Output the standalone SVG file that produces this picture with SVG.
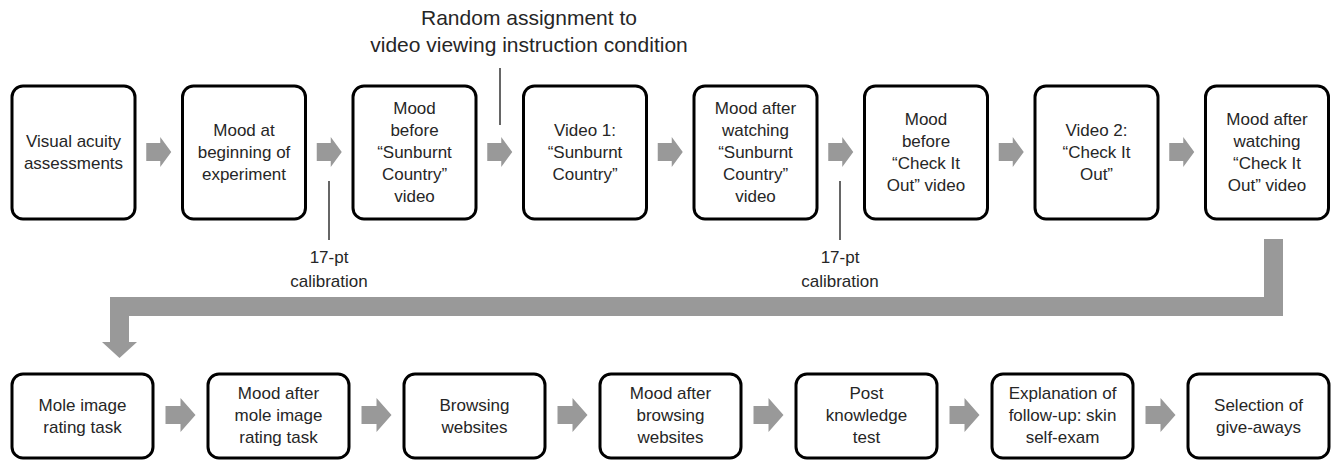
<svg xmlns="http://www.w3.org/2000/svg" width="1337" height="460" viewBox="0 0 1337 460">
<style>
.box{fill:#fff;stroke:#000;stroke-width:3}
.t{font-family:"Liberation Sans",Arial,sans-serif;font-size:17px;fill:#262626;text-anchor:middle}
.big{font-size:21px}
.arr{fill:#999}
.ln{stroke:#333;stroke-width:1.5;fill:none}
</style>
<rect width="1337" height="460" fill="#fff"/>
<defs>
<polygon id="ta" points="-12.5,-9 1.5,-9 1.5,-15 12.5,0 1.5,15 1.5,9 -12.5,9"/>
<polygon id="ba" points="-15,-9 0,-9 0,-17 15,0 0,17 0,9 -15,9"/>
</defs>
<g id="connectors">
<use href="#ta" class="arr" x="158.75" y="152"/>
<use href="#ta" class="arr" x="329.25" y="152"/>
<use href="#ta" class="arr" x="499.75" y="152"/>
<use href="#ta" class="arr" x="670.25" y="152"/>
<use href="#ta" class="arr" x="840.75" y="152"/>
<use href="#ta" class="arr" x="1011.25" y="152"/>
<use href="#ta" class="arr" x="1181.75" y="152"/>
<polygon class="arr" points="1264,239 1283,239 1283,316 129,316 129,342 137,342 119.5,358 102,342 110,342 110,297 1264,297"/>
<use href="#ba" class="arr" x="180.5" y="415"/>
<use href="#ba" class="arr" x="376.5" y="415"/>
<use href="#ba" class="arr" x="572.5" y="415"/>
<use href="#ba" class="arr" x="768.5" y="415"/>
<use href="#ba" class="arr" x="964.5" y="415"/>
<use href="#ba" class="arr" x="1160.5" y="415"/>
<line class="ln" x1="329" y1="181" x2="329" y2="240"/>
<line class="ln" x1="840" y1="181" x2="840" y2="240"/>
<line class="ln" x1="500" y1="68" x2="500" y2="125"/>
</g>
<g id="label-random">
<text class="t big" x="529" y="25">Random assignment to</text>
<text class="t big" x="529" y="52">video viewing instruction condition</text>
</g>
<g id="label-calib1">
<text class="t" x="329" y="263">17-pt</text>
<text class="t" x="329" y="287">calibration</text>
</g>
<g id="label-calib2">
<text class="t" x="840" y="263">17-pt</text>
<text class="t" x="840" y="287">calibration</text>
</g>
<g id="n1"><rect class="box" x="12" y="86" width="123" height="133" rx="11"/>
<text class="t" x="73.5" y="147">Visual acuity<tspan x="73.5" dy="22">assessments</tspan></text></g>
<g id="n2"><rect class="box" x="182.5" y="86" width="123" height="133" rx="11"/>
<text class="t" x="244" y="136">Mood at<tspan x="244" dy="22">beginning of</tspan><tspan x="244" dy="22">experiment</tspan></text></g>
<g id="n3"><rect class="box" x="353" y="86" width="123" height="133" rx="11"/>
<text class="t" x="414.5" y="114">Mood<tspan x="414.5" dy="22">before</tspan><tspan x="414.5" dy="22">“Sunburnt</tspan><tspan x="414.5" dy="22">Country”</tspan><tspan x="414.5" dy="22">video</tspan></text></g>
<g id="n4"><rect class="box" x="523.5" y="86" width="123" height="133" rx="11"/>
<text class="t" x="585" y="136">Video 1:<tspan x="585" dy="22">“Sunburnt</tspan><tspan x="585" dy="22">Country”</tspan></text></g>
<g id="n5"><rect class="box" x="694" y="86" width="123" height="133" rx="11"/>
<text class="t" x="755.5" y="114">Mood after<tspan x="755.5" dy="22">watching</tspan><tspan x="755.5" dy="22">“Sunburnt</tspan><tspan x="755.5" dy="22">Country”</tspan><tspan x="755.5" dy="22">video</tspan></text></g>
<g id="n6"><rect class="box" x="864.5" y="86" width="123" height="133" rx="11"/>
<text class="t" x="926" y="125">Mood<tspan x="926" dy="22">before</tspan><tspan x="926" dy="22">“Check It</tspan><tspan x="926" dy="22">Out” video</tspan></text></g>
<g id="n7"><rect class="box" x="1035" y="86" width="123" height="133" rx="11"/>
<text class="t" x="1096.5" y="136">Video 2:<tspan x="1096.5" dy="22">“Check It</tspan><tspan x="1096.5" dy="22">Out”</tspan></text></g>
<g id="n8"><rect class="box" x="1205.5" y="86" width="123" height="133" rx="11"/>
<text class="t" x="1267" y="125">Mood after<tspan x="1267" dy="22">watching</tspan><tspan x="1267" dy="22">“Check It</tspan><tspan x="1267" dy="22">Out” video</tspan></text></g>
<g id="m1"><rect class="box" x="12" y="374" width="141" height="84" rx="11"/>
<text class="t" x="82.5" y="411">Mole image<tspan x="82.5" dy="22">rating task</tspan></text></g>
<g id="m2"><rect class="box" x="208" y="374" width="141" height="84" rx="11"/>
<text class="t" x="278.5" y="399">Mood after<tspan x="278.5" dy="22">mole image</tspan><tspan x="278.5" dy="22">rating task</tspan></text></g>
<g id="m3"><rect class="box" x="404" y="374" width="141" height="84" rx="11"/>
<text class="t" x="474.5" y="411">Browsing<tspan x="474.5" dy="22">websites</tspan></text></g>
<g id="m4"><rect class="box" x="600" y="374" width="141" height="84" rx="11"/>
<text class="t" x="670.5" y="399">Mood after<tspan x="670.5" dy="22">browsing</tspan><tspan x="670.5" dy="22">websites</tspan></text></g>
<g id="m5"><rect class="box" x="796" y="374" width="141" height="84" rx="11"/>
<text class="t" x="866.5" y="399">Post<tspan x="866.5" dy="22">knowledge</tspan><tspan x="866.5" dy="22">test</tspan></text></g>
<g id="m6"><rect class="box" x="992" y="374" width="141" height="84" rx="11"/>
<text class="t" x="1062.5" y="399">Explanation of<tspan x="1062.5" dy="22">follow-up: skin</tspan><tspan x="1062.5" dy="22">self-exam</tspan></text></g>
<g id="m7"><rect class="box" x="1188" y="374" width="141" height="84" rx="11"/>
<text class="t" x="1258.5" y="411">Selection of<tspan x="1258.5" dy="22">give-aways</tspan></text></g>
</svg>
